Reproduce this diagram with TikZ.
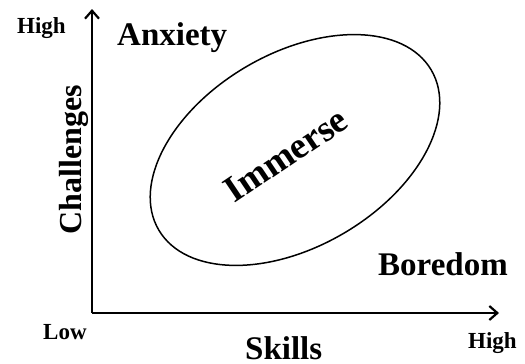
\documentclass[tikz,border=0pt]{standalone}
\usepackage{fontspec}
\setmainfont{Liberation Serif}
\usetikzlibrary{arrows.meta}
\begin{document}
\begin{tikzpicture}[x=1pt,y=-1pt,
  axis/.style={line width=2.6pt,-{Straight Barb[length=8pt,width=14pt,line width=2.2pt]}},
  big/.style={inner sep=0pt,font=\fontsize{33}{36}\selectfont\bfseries},
  small/.style={inner sep=0pt,font=\fontsize{23}{26}\selectfont\bfseries},
  ring/.style={line width=1.5pt}]
\useasboundingbox (0,0) rectangle (525,364);
\coordinate (origin) at (92,313);
\coordinate (ytip) at (92,9);
\coordinate (xtip) at (499,313);
\draw[axis] (origin) -- (ytip);
\draw[axis] (origin) -- (xtip);
\draw[ring, rotate around={30.4:(295,150)}] (295,150) ellipse [x radius=158pt, y radius=96.5pt];
\node[small,anchor=base west] (hy) at (17,33) {High};
\node[small,anchor=base west] (lo) at (43,339) {Low};
\node[small,anchor=base west] (hx) at (468,348) {High};
\node[big,anchor=base west] (anx) at (117,45) {Anxiety};
\node[big,anchor=base west] (bor) at (378,275) {Boredom};
\node[big,anchor=base west] (sk) at (245,359) {Skills};
\node[big,anchor=base,rotate=90,font=\fontsize{32}{36}\selectfont\bfseries] (ch) at (81,160) {Challenges};
\node[big,rotate=34,font=\fontsize{37}{40}\selectfont\bfseries] (imm) at (286,155) {Immerse};
\end{tikzpicture}
\end{document}
